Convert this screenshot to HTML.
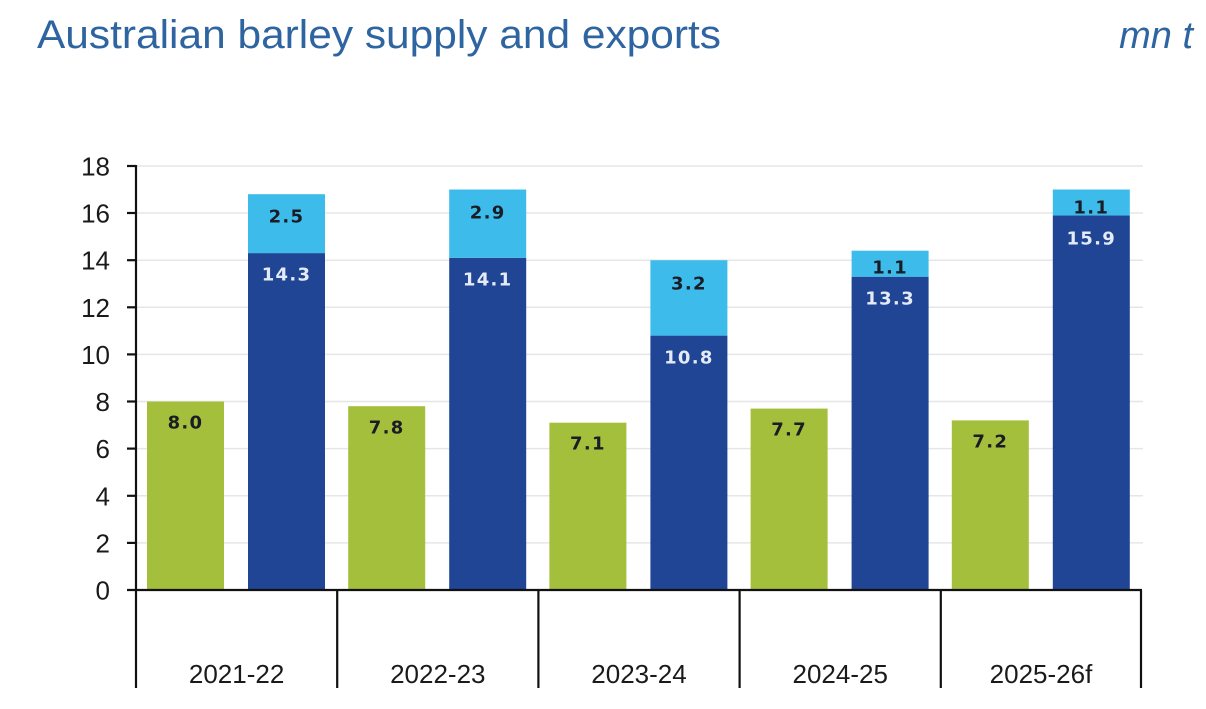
<!DOCTYPE html>
<html><head><meta charset="utf-8"><style>
html,body{margin:0;padding:0;background:#fff;}
svg{display:block;}
</style></head><body>
<svg width="1206" height="709" viewBox="0 0 1206 709" xmlns="http://www.w3.org/2000/svg">
<rect width="1206" height="709" fill="#fff"/>
<text x="37" y="48" font-family="Liberation Sans, sans-serif" font-size="40" fill="#2e65a0" textLength="684" lengthAdjust="spacingAndGlyphs">Australian barley supply and exports</text>
<text x="1193" y="48" text-anchor="end" font-family="Liberation Sans, sans-serif" font-size="38" font-style="italic" fill="#2e65a0">mn t</text>

<g stroke="#e6e6e6" stroke-width="1.5">
<line x1="137" y1="542.9" x2="1143" y2="542.9"/>
<line x1="137" y1="495.8" x2="1143" y2="495.8"/>
<line x1="137" y1="448.6" x2="1143" y2="448.6"/>
<line x1="137" y1="401.5" x2="1143" y2="401.5"/>
<line x1="137" y1="354.4" x2="1143" y2="354.4"/>
<line x1="137" y1="307.3" x2="1143" y2="307.3"/>
<line x1="137" y1="260.2" x2="1143" y2="260.2"/>
<line x1="137" y1="213" x2="1143" y2="213"/>
<line x1="137" y1="166" x2="1143" y2="166"/>
</g>

<g>
<rect x="147" y="401.5" width="77" height="188.5" fill="#a4bf3b"/>
<rect x="248" y="253.1" width="77" height="336.9" fill="#1f4594"/>
<rect x="248" y="194.2" width="77" height="58.9" fill="#3dbcec"/>

<rect x="348.2" y="406.2" width="77" height="183.8" fill="#a4bf3b"/>
<rect x="449.2" y="257.8" width="77" height="332.2" fill="#1f4594"/>
<rect x="449.2" y="189.5" width="77" height="68.3" fill="#3dbcec"/>

<rect x="549.4" y="422.7" width="77" height="167.3" fill="#a4bf3b"/>
<rect x="650.4" y="335.6" width="77" height="254.4" fill="#1f4594"/>
<rect x="650.4" y="260.2" width="77" height="75.4" fill="#3dbcec"/>

<rect x="750.6" y="408.6" width="77" height="181.4" fill="#a4bf3b"/>
<rect x="851.6" y="276.7" width="77" height="313.3" fill="#1f4594"/>
<rect x="851.6" y="250.7" width="77" height="26" fill="#3dbcec"/>

<rect x="951.8" y="420.4" width="77" height="169.6" fill="#a4bf3b"/>
<rect x="1052.8" y="215.4" width="77" height="374.6" fill="#1f4594"/>
<rect x="1052.8" y="189.5" width="77" height="25.9" fill="#3dbcec"/>
</g>

<g font-family="DejaVu Sans, sans-serif" font-size="18" font-weight="bold" text-anchor="middle" letter-spacing="1.3">
<g fill="#1a1d26">
<text x="185.5" y="428.5">8.0</text>
<text x="386.7" y="433.5">7.8</text>
<text x="587.9" y="449.5">7.1</text>
<text x="789.1" y="435.5">7.7</text>
<text x="990.3" y="447.5">7.2</text>
<text x="286.5" y="222.5">2.5</text>
<text x="487.7" y="218.5">2.9</text>
<text x="688.9" y="289.5">3.2</text>
<text x="890.1" y="273.5">1.1</text>
<text x="1091.3" y="213.5">1.1</text>
</g>
<g fill="#e4ebf6">
<text x="286.5" y="280.5">14.3</text>
<text x="487.7" y="285.5">14.1</text>
<text x="688.9" y="363.5">10.8</text>
<text x="890.1" y="304.5">13.3</text>
<text x="1091.3" y="244.5">15.9</text>
</g>
</g>

<g stroke="#111" stroke-width="2.2" fill="none">
<line x1="136" y1="165" x2="136" y2="688"/>
<line x1="127" y1="590" x2="1142" y2="590"/>
<line x1="127" y1="542.9" x2="136" y2="542.9"/>
<line x1="127" y1="495.8" x2="136" y2="495.8"/>
<line x1="127" y1="448.6" x2="136" y2="448.6"/>
<line x1="127" y1="401.5" x2="136" y2="401.5"/>
<line x1="127" y1="354.4" x2="136" y2="354.4"/>
<line x1="127" y1="307.3" x2="136" y2="307.3"/>
<line x1="127" y1="260.2" x2="136" y2="260.2"/>
<line x1="127" y1="213" x2="136" y2="213"/>
<line x1="127" y1="166" x2="136" y2="166"/>
<line x1="337.2" y1="590" x2="337.2" y2="688"/>
<line x1="538.4" y1="590" x2="538.4" y2="688"/>
<line x1="739.6" y1="590" x2="739.6" y2="688"/>
<line x1="940.8" y1="590" x2="940.8" y2="688"/>
<line x1="1141" y1="590" x2="1141" y2="688"/>
</g>

<g font-family="Liberation Sans, sans-serif" font-size="26" fill="#1a1a1a" text-anchor="end">
<text x="110" y="599.5">0</text>
<text x="110" y="552.4">2</text>
<text x="110" y="505.3">4</text>
<text x="110" y="458.1">6</text>
<text x="110" y="411">8</text>
<text x="110" y="363.9">10</text>
<text x="110" y="316.8">12</text>
<text x="110" y="269.7">14</text>
<text x="110" y="222.5">16</text>
<text x="110" y="175.5">18</text>
</g>

<g font-family="Liberation Sans, sans-serif" font-size="26" fill="#1a1a1a" text-anchor="middle">
<text x="236.6" y="683">2021-22</text>
<text x="437.8" y="683">2022-23</text>
<text x="639" y="683">2023-24</text>
<text x="840.2" y="683">2024-25</text>
<text x="1041" y="683">2025-26f</text>
</g>
</svg>
</body></html>
